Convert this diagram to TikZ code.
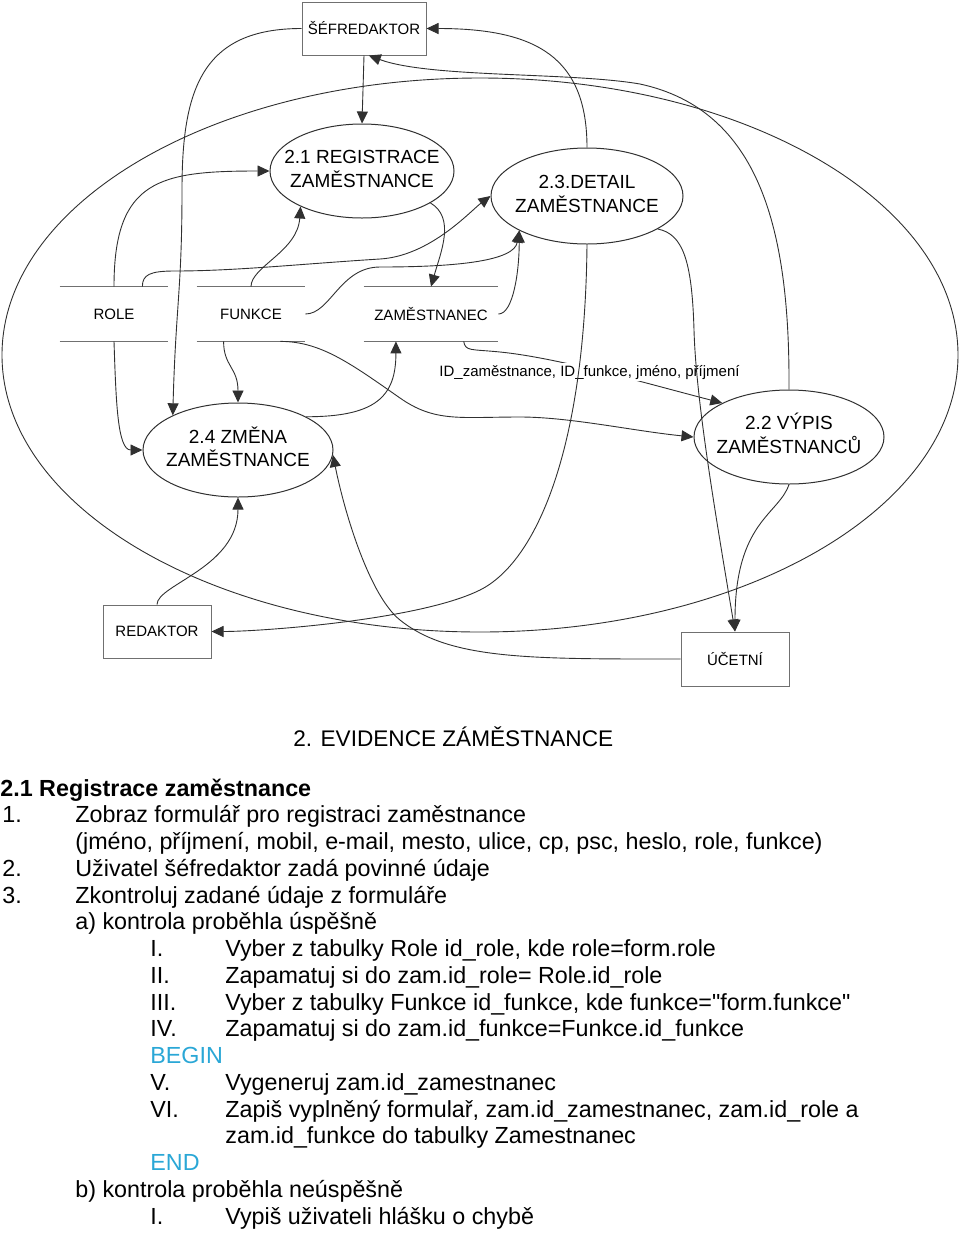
\documentclass[tikz,border=0pt]{standalone}
\usepackage{fontspec}
\setmainfont{Liberation Sans}
\usetikzlibrary{arrows.meta,shapes.geometric}
\definecolor{linec}{HTML}{303030}
\definecolor{boxc}{HTML}{707070}
\definecolor{blueword}{HTML}{2AA7D6}
\newcommand\ellfont{\fontsize{9.5}{11.5}\selectfont}
\newcommand\boxfont{\fontsize{7.5}{9}\selectfont}
\newcommand\bodyfont{\fontsize{11.65}{13.4}\selectfont}
\newcommand\titlefont{\fontsize{11.3}{13.4}\selectfont}
\newcommand\twolines[2]{\makebox[0pt]{\begin{tabular}{@{}c@{}}#1\\#2\end{tabular}}}
\newcommand\dq{\XeTeXglyph\XeTeXcharglyph34\relax}
\begin{document}
\begin{tikzpicture}[x=0.5pt,y=-0.5pt,
  proc/.style={ellipse, draw=linec, line width=0.5pt, inner sep=0pt, font=\ellfont},
  ent/.style={rectangle, draw=boxc, line width=0.5pt, inner sep=0pt, minimum width=54pt, minimum height=26.5pt, font=\boxfont},
  store/.style={rectangle, inner sep=0pt, minimum height=27pt, font=\boxfont},
  storeline/.style={draw=boxc, line width=0.5pt},
  flow/.style={draw=linec, line width=0.45pt, -{Triangle[length=6pt,width=5.5pt]}},
  plain/.style={draw=linec, line width=0.45pt},
  body/.style={anchor=base west, inner sep=0pt, font=\bodyfont},
]
\useasboundingbox (0,0) rectangle (960,1233);

% system boundary
\draw[plain] (480,355) ellipse [x radius=478, y radius=277];

% terminators
\node[ent, minimum width=62pt] (sef) at (364,28.5) {ŠÉFREDAKTOR};
\node[ent] (red) at (157,631.5) {REDAKTOR};
\node[ent, minimum height=27pt] (ucet) at (735,659) {ÚČETNÍ};

% processes
\node[proc, minimum width=92pt, minimum height=47pt] (reg) at (362,171) {\twolines{2.1 REGISTRACE}{ZAMĚSTNANCE}};
\node[proc, minimum width=96pt, minimum height=48pt] (det) at (587,196) {\twolines{2.3.DETAIL}{ZAMĚSTNANCE}};
\node[proc, minimum width=95pt, minimum height=47pt] (zm) at (238,450) {\twolines{2.4 ZMĚNA}{ZAMĚSTNANCE}};
\node[proc, minimum width=95pt, minimum height=47pt] (vyp) at (789,437) {\twolines{2.2 VÝPIS}{ZAMĚSTNANCŮ}};

% data stores
\node[store, minimum width=54pt] (role) at (114,314) {ROLE};
\node[store, minimum width=54pt] (fun) at (251,314) {FUNKCE};
\node[store, minimum width=67pt] (zam) at (431,314) {ZAMĚSTNANEC};
\foreach \s in {role,fun,zam}{
  \draw[storeline] (\s.north west) -- (\s.north east) (\s.south west) -- (\s.south east);
}

% flows
\draw[flow] (sef.south) -- (reg.north);
\draw[flow] (sef.west) .. controls +(-100,0) and +(0,-100) .. (182,190) .. controls +(0,100) and +(3,-110) .. (zm.152);
\draw[flow] (det.north) .. controls +(0,-90) and +(110,0) .. (sef.east);
\draw[flow] (vyp.north) .. controls (790,230) and (760,110) .. (640,84) .. controls (570,72) and (430,78) .. (sef.-80);
\draw[flow] (role.44) .. controls +(0,-12) and +(-25,0) .. (175,271) .. controls +(60,0) and +(-80,5) .. (380,259) .. controls +(50,-3) and +(-20,15) .. (det.west);
\draw[flow] (fun.east) .. controls +(25,0) and +(-40,0) .. (380,267) .. controls +(80,0) and +(-5,30) .. (det.-153);
\draw[flow] (zam.east) .. controls +(15,0) and +(0,40) .. (det.-153);
\draw[flow] (reg.-25) .. controls +(25,15) and +(10,-35) .. (zam.north);
\draw[flow] (fun.north) .. controls +(0,-20) and +(-3,45) .. (reg.-150);
\draw[flow] (role.north) .. controls +(0,-107) and +(-110,0) .. (reg.west);
\draw[flow] (role.south) .. controls +(2,60) and +(-25,0) .. (zm.west);
\draw[flow] (fun.-135) .. controls +(0,25) and +(0,-35) .. (zm.north);
\draw[flow] (zm.26) .. controls +(70,0) and +(0,55) .. (zam.-142);
\draw[flow] (fun.-43) .. controls +(40,0) and +(-50,-35) .. (400,398) .. controls +(35,24.5) and +(-60,0) .. (520,417) .. controls +(50,0) and +(-60,-6) .. (vyp.west);
\draw[flow] (zam.-40) .. controls +(2,10) and +(-30,-3) .. (500,352) .. controls +(60,6) and +(-70,-18) .. (vyp.153);
\node[fill=white, inner sep=1pt, anchor=base, font=\boxfont] (idl) at (589.5,376) {ID\_zaměstnance, ID\_funkce, jméno, příjmení};
\draw[flow] (det.-25) .. controls +(25,5) and +(-2,-70) .. (694,330) .. controls +(2,70) and +(-20,-120) .. (ucet.north);
\draw[flow] (vyp.south) .. controls +(-10,30) and +(0,-110) .. (ucet.north);
\draw[flow] (det.south) .. controls +(-2,206) and +(56,-28) .. (480,590) .. controls +(-60,30) and +(50,0) .. (red.east);
\draw[flow] (red.north) .. controls +(0,-20) and +(0,70) .. (zm.south);
\draw[flow] (ucet.west) .. controls +(-150,0) and +(50,40) .. (400,620) .. controls +(-30,-24) and +(12,60) .. (zm.-3);

% title
\node[body, font=\titlefont] (title) at (293,746) {2. EVIDENCE ZÁMĚSTNANCE};

% description
\node[body, font=\bodyfont\bfseries] (h) at (0,796) {2.1 Registrace zaměstnance};
\node[body] (n1) at (2,822.75) {1.};
\node[body] (t1) at (75,822.75) {Zobraz formulář pro registraci zaměstnance};
\node[body] (t1b) at (75,849.5) {(jméno, příjmení, mobil, e-mail, mesto, ulice, cp, psc, heslo, role, funkce)};
\node[body] (n2) at (2,876.25) {2.};
\node[body] (t2) at (75,876.25) {Uživatel šéfredaktor zadá povinné údaje};
\node[body] (n3) at (2,903) {3.};
\node[body] (t3) at (75,903) {Zkontroluj zadané údaje z formuláře};
\node[body] (ta) at (75,929.75) {a) kontrola proběhla úspěšně};
\node[body] (r1) at (150,956.5) {I.};
\node[body] (s1) at (225,956.5) {Vyber z tabulky Role id\_role, kde role=form.role};
\node[body] (r2) at (150,983.25) {II.};
\node[body] (s2) at (225,983.25) {Zapamatuj si do zam.id\_role= Role.id\_role};
\node[body] (r3) at (150,1010) {III.};
\node[body] (s3) at (225,1010) {Vyber z tabulky Funkce id\_funkce, kde funkce=\dq form.funkce\dq};
\node[body] (r4) at (150,1036.75) {IV.};
\node[body] (s4) at (225,1036.75) {Zapamatuj si do zam.id\_funkce=Funkce.id\_funkce};
\node[body, text=blueword] (bg) at (150,1063.5) {BEGIN};
\node[body] (r5) at (150,1090.25) {V.};
\node[body] (s5) at (225,1090.25) {Vygeneruj zam.id\_zamestnanec};
\node[body] (r6) at (150,1117) {VI.};
\node[body] (s6) at (225,1117) {Zapiš vyplněný formulař, zam.id\_zamestnanec, zam.id\_role a};
\node[body] (s6b) at (225,1143.75) {zam.id\_funkce do tabulky Zamestnanec};
\node[body, text=blueword] (en) at (150,1170.5) {END};
\node[body] (tb) at (75,1197.25) {b) kontrola proběhla neúspěšně};
\node[body] (q1) at (150,1224) {I.};
\node[body] (u1) at (225,1224) {Vypiš uživateli hlášku o chybě};
\end{tikzpicture}
\end{document}
